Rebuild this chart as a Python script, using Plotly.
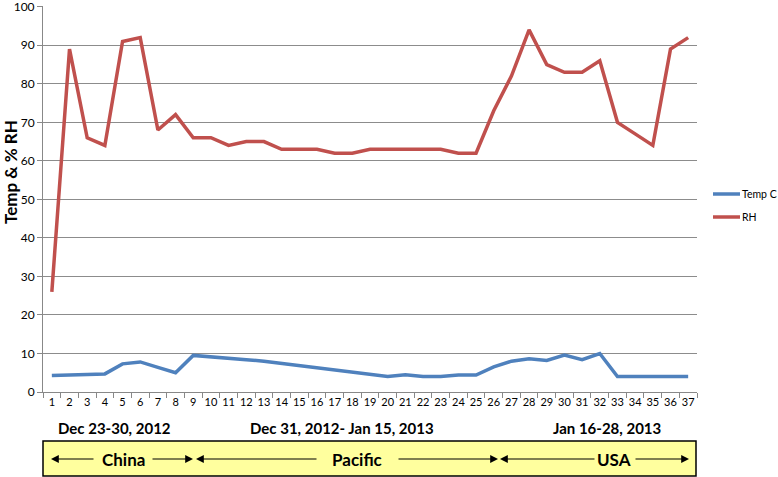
import plotly.graph_objects as go

# day index along the voyage
days = [str(i) for i in range(1, 38)]

temp_c = [4.3, 4.5, 4.7, 4.7, 7.3, 7.8, 6.4, 5.0, 9.5, 9.2,
          8.8, 8.4, 8.0, 7.4, 6.9, 6.3, 5.7, 5.1, 4.5, 4.0,
          4.5, 4.0, 4.0, 4.4, 4.4, 6.5, 8.0, 8.6, 8.2, 9.6,
          8.4, 10.0, 4.0, 4.0, 4.2, 4.0, 4.0]

rh = [26, 89, 66, 64, 91, 92, 68, 72, 66, 66,
      64, 65, 65, 63, 63, 63, 62, 62, 63, 63,
      63, 63, 63, 62, 62, 73, 82, 94, 85, 83,
      83, 86, 70, 67, 64, 89, 92]

period_labels = ["Dec 23-30, 2012", "Dec 31, 2012- Jan 15, 2013", "Jan 16-28, 2013"]
leg_labels = ["China", "Pacific", "USA"]

FONT = "Lato, 'Open Sans', sans-serif"
BLUE, RED = "#4F81BD", "#C0504D"

# plot area in pixels (for paper coordinate helpers)
L, R, T, B = 43, 697, 6, 392


def px(x):
    return (x - L) / (R - L)


def py(y):
    return (B - y) / (B - T)


fig = go.Figure()
fig.add_trace(go.Scatter(x=days, y=temp_c, mode="lines", name="Temp C",
                         line=dict(color=BLUE, width=3.5)))
fig.add_trace(go.Scatter(x=days, y=rh, mode="lines", name="RH",
                         line=dict(color=RED, width=3.5)))

# yellow box with the legs of the trip
fig.add_shape(type="rect", xref="paper", yref="paper",
              x0=px(43), x1=px(696), y0=py(441), y1=py(476),
              fillcolor="#FFFF9E", line=dict(color="black", width=1.5))

annotations = []
# period labels under the axis
for lab, cx in zip(period_labels, [114, 342, 607]):
    annotations.append(dict(x=px(cx), y=py(428), xref="paper", yref="paper",
                            xanchor="center", yanchor="middle",
                            text="<b>%s</b>" % lab, showarrow=False,
                            font=dict(family=FONT, size=15, color="black")))
# leg names in the box
for lab, cx in zip(leg_labels, [123, 357, 614]):
    annotations.append(dict(x=px(cx), y=py(459), xref="paper", yref="paper",
                            xanchor="center", yanchor="middle",
                            text="<b>%s</b>" % lab, showarrow=False,
                            font=dict(family=FONT, size=17, color="black")))
# arrows: (tail, head) in pixels
arrows = [(95, 51), (151, 193), (318, 196), (397, 498), (596, 500), (634, 689)]
for tail, head in arrows:
    annotations.append(dict(x=px(head), y=py(459), xref="paper", yref="paper",
                            ax=tail - head, ay=0, text="", showarrow=True,
                            arrowhead=2, arrowsize=1.3, arrowwidth=1.2,
                            arrowcolor="black"))
# y title
annotations.append(dict(x=px(10), y=py(172), xref="paper", yref="paper",
                        xanchor="center", yanchor="middle",
                        text="<b>Temp &amp; % RH</b>", textangle=-90,
                        showarrow=False,
                        font=dict(family=FONT, size=17, color="black")))

# legend drawn by hand so it fits the narrow right margin
for name, col, ly in [("Temp C", BLUE, 194), ("RH", RED, 217)]:
    fig.add_shape(type="line", xref="paper", yref="paper",
                  x0=px(713), x1=px(740), y0=py(ly), y1=py(ly),
                  line=dict(color=col, width=3.5))
    annotations.append(dict(x=px(740), y=py(ly), xref="paper", yref="paper",
                            xanchor="left", yanchor="middle", text=name,
                            showarrow=False,
                            font=dict(family=FONT, size=10.5, color="black")))

fig.update_layout(
    width=778, height=477,
    margin=dict(l=L, r=778 - R, t=T, b=477 - B),
    plot_bgcolor="white", paper_bgcolor="white",
    font=dict(family=FONT, size=12, color="black"),
    annotations=annotations,
    showlegend=False,
    xaxis=dict(type="category", tickson="boundaries", ticks="outside",
               range=[-0.5, 36.5], tickangle=0,
               ticklen=5, tickcolor="#888", showline=True, linecolor="#888",
               showgrid=False, tickfont=dict(size=11), automargin=False),
    yaxis=dict(range=[0, 100.2], tickvals=list(range(0, 101, 10)),
               ticks="outside", ticklen=5, ticklabeloverflow="allow",
               tickcolor="#888", showline=True, linecolor="#888",
               gridcolor="#8c8c8c", gridwidth=1, zeroline=False,
               tickfont=dict(size=12), automargin=False),
)

# drop the default page margin so the chart sits at the window's corner
fig.write_html("out.html", config={"displayModeBar": False},
               post_script="document.body.style.margin='0';")
